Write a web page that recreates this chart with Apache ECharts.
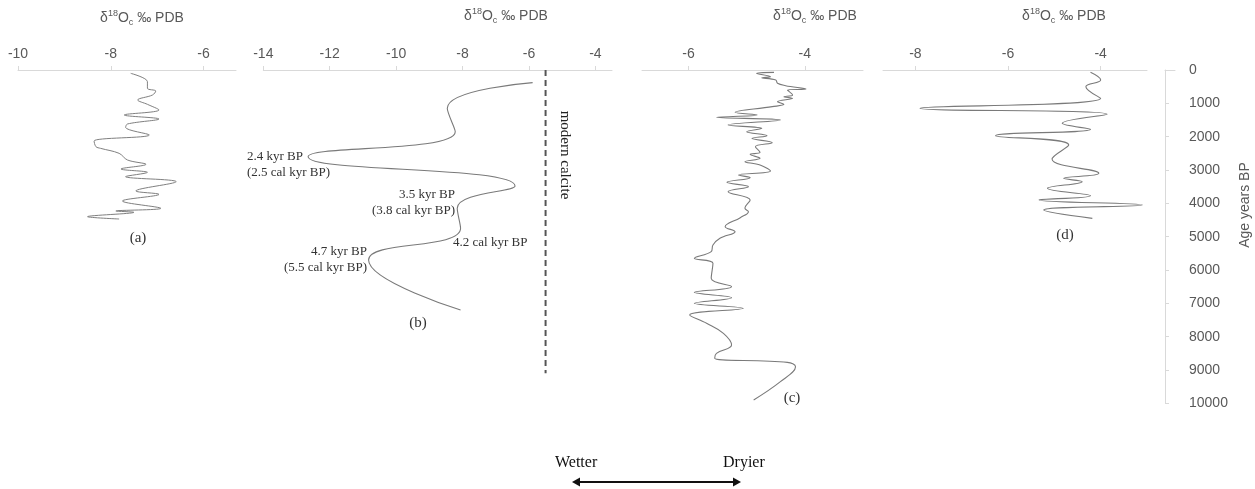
<!DOCTYPE html>
<html><head><meta charset="utf-8">
<script src="https://cdn.jsdelivr.net/npm/echarts@6/dist/echarts.min.js"></script>
<style>html,body{margin:0;padding:0;background:#fff}#c{width:1255px;height:489px}</style>
</head><body><div id="c"></div>
<script>
// ---- data ----
const ageTicks = [0,1000,2000,3000,4000,5000,6000,7000,8000,9000,10000];
const ticksA = [-10,-8,-6];
const ticksB = [-14,-12,-10,-8,-6,-4];
const ticksC = [-6,-4];
const ticksD = [-8,-6,-4];

const ageA = [100,350,550,630,750,900,1030,1200,1350,1470,1620,1720,1950,2130,2300,2350,2500,2700,2830,2970,3070,3200,3350,3630,3730,3930,4150,4230,4270,4400,4470];
const d18OA = [-7.57,-7.21,-7.21,-7.03,-7.10,-7.42,-7.21,-6.96,-7.71,-6.96,-7.64,-7.68,-7.17,-8.36,-8.32,-8.22,-7.82,-7.64,-7.24,-7.78,-7.21,-7.68,-6.59,-7.46,-6.96,-7.75,-6.92,-7.89,-7.50,-8.50,-7.82];

const ageB = [380,1150,1850,2600,3480,4150,4750,5700,7200];
const d18OB = [-5.89,-8.46,-8.22,-12.65,-6.42,-8.16,-8.06,-10.83,-8.06];
const calciteValue = [-5.5,-5.5];
const calciteAge = [0,9100];

const ageC = [70,100,200,230,300,400,470,570,600,750,800,850,950,1030,1100,1270,1350,1420,1500,1650,1750,1850,1970,2050,2180,2300,2470,2530,2650,2750,2850,3030,3150,3230,3370,3500,3650,3900,4150,4250,4430,4700,4850,5050,5250,5450,5650,5800,6250,6500,6670,6830,7000,7150,7350,7600,7900,8250,8500,8650,8770,8900,9350,9900];
const d18OC = [-4.53,-4.83,-4.59,-4.74,-4.50,-4.47,-4.33,-3.98,-4.30,-4.21,-4.36,-4.21,-4.47,-4.36,-4.56,-5.20,-4.82,-5.52,-4.42,-5.32,-4.74,-5.00,-4.65,-4.91,-4.56,-4.85,-4.77,-4.94,-4.77,-5.03,-4.77,-4.59,-5.14,-4.94,-5.34,-4.97,-5.32,-4.94,-5.03,-4.97,-5.11,-5.37,-5.20,-5.46,-5.58,-5.61,-5.90,-5.58,-5.61,-5.26,-5.90,-5.26,-5.90,-5.06,-5.98,-5.69,-5.40,-5.26,-5.52,-5.55,-4.30,-4.16,-4.42,-4.88];

const ageD = [70,300,500,850,1150,1330,1600,1780,1970,2250,2670,3100,3250,3350,3550,3770,3900,4050,4200,4450];
const d18OD = [-4.22,-4.00,-4.32,-4.00,-7.90,-3.86,-4.83,-4.22,-6.27,-4.69,-5.05,-4.04,-4.80,-4.40,-5.15,-4.22,-5.33,-3.10,-5.23,-4.18];

const pairs = (v, a) => v.map((x, i) => [x, a[i]]);

// ---- chart ----
const chart = echarts.init(document.getElementById('c'), null, {renderer: 'canvas'});
const TOP = 70, H = 333.33;
const gray = '#595959', axisGray = '#d9d9d9';
const sans = 'Liberation Sans, Arial, sans-serif';
const serif = 'Liberation Serif, Times New Roman, serif';

function xAx(idx, min, max, ticks) {
  return {
    type: 'value', gridIndex: idx, position: 'top', min: min, max: max,
    axisLine: {show: true, onZero: false, lineStyle: {color: axisGray, width: 1}},
    axisTick: {show: true, inside: false, length: 4, customValues: ticks, lineStyle: {color: axisGray}},
    axisLabel: {show: true, customValues: ticks, color: gray, fontSize: 14, fontFamily: sans, margin: 9},
    splitLine: {show: false}
  };
}
function yAxHidden(idx) {
  return {type: 'value', gridIndex: idx, min: 0, max: 10000, inverse: true, show: false};
}
function lineSeries(idx, data, extra) {
  return Object.assign({
    type: 'line', xAxisIndex: idx, yAxisIndex: idx, data: data, smooth: 0.45,
    symbol: 'none', lineStyle: {color: '#7a7a7a', width: 1.1}, silent: true, animation: false
  }, extra || {});
}

const titleRich = {
  b: {fontSize: 14, fontFamily: sans, fill: gray, lineHeight: 18},
  sup: {fontSize: 9, fontFamily: sans, fill: gray, verticalAlign: 'top', lineHeight: 18, padding: [0,0,6,0]},
  sub: {fontSize: 9, fontFamily: sans, fill: gray, verticalAlign: 'bottom', lineHeight: 18, padding: [6,0,0,0]}
};
const titleText = '{b|δ}{sup|18}{b|O}{sub|c}{b| ‰ PDB}';
function titleG(x, y) {
  return {type: 'text', x: x, y: y, silent: true,
    style: {text: titleText, rich: titleRich, fill: gray, align: 'center', verticalAlign: 'middle'}};
}
function noteG(x, y, txt, align, size) {
  return {type: 'text', x: x, y: y, silent: true,
    style: {text: txt, font: (size || 13) + 'px ' + serif, fill: '#333', align: align, verticalAlign: 'middle', lineHeight: 16}};
}

const option = {
  backgroundColor: '#fff',
  animation: false,
  grid: [
    {left: 18, top: TOP, width: 218, height: H},
    {left: 263.3, top: TOP, width: 348.7, height: H},
    {left: 642, top: TOP, width: 221, height: H},
    {left: 883, top: TOP, width: 264, height: H},
    {left: 1165, top: TOP, width: 10, height: H}
  ],
  xAxis: [
    xAx(0, -10, -5.3, ticksA),
    xAx(1, -14, -3.5, ticksB),
    xAx(2, -6.8, -3.0, ticksC),
    xAx(3, -8.7, -3.0, ticksD),
    {type: 'value', gridIndex: 4, position: 'top', min: 0, max: 1,
      axisLine: {show: true, lineStyle: {color: axisGray}}, axisTick: {show: false}, axisLabel: {show: false}, splitLine: {show: false}}
  ],
  yAxis: [
    yAxHidden(0), yAxHidden(1), yAxHidden(2), yAxHidden(3),
    {type: 'value', gridIndex: 4, position: 'right', min: 0, max: 10000, interval: 1000, inverse: true,
      axisLine: {show: true, lineStyle: {color: axisGray}},
      axisTick: {show: true, length: 4, lineStyle: {color: axisGray}},
      axisLabel: {color: gray, fontSize: 14, fontFamily: sans, margin: 14,
        customValues: ageTicks, formatter: v => String(v)},
      splitLine: {show: false}}
  ],
  series: [
    lineSeries(0, pairs(d18OA, ageA), {smooth: 0.35, lineStyle: {color: '#808080', width: 1}}),
    lineSeries(1, pairs(d18OB, ageB), {smooth: 0.5}),
    lineSeries(1, pairs(calciteValue, calciteAge), {smooth: false, lineStyle: {color: '#555', width: 2, type: [6, 4]}}),
    lineSeries(2, pairs(d18OC, ageC), {smooth: 0.4}),
    lineSeries(3, pairs(d18OD, ageD), {smooth: 0.45})
  ],
  graphic: [
    titleG(142, 18), titleG(506, 16), titleG(815, 16), titleG(1064, 16),
    noteG(138, 238, '(a)', 'center', 15),
    noteG(418, 323, '(b)', 'center', 15),
    noteG(792, 398, '(c)', 'center', 15),
    noteG(1065, 235, '(d)', 'center', 15),
    noteG(247, 165, '2.4 kyr BP\n(2.5 cal kyr BP)', 'left'),
    noteG(455, 203, '3.5 kyr BP\n(3.8 cal kyr BP)', 'right'),
    noteG(453, 243, '4.2 cal kyr BP', 'left'),
    noteG(367, 260, '4.7 kyr BP\n(5.5 cal kyr BP)', 'right'),
    {type: 'text', x: 565, y: 155, rotation: -Math.PI / 2, silent: true,
      style: {text: 'modern calcite', font: '15px ' + serif, fill: '#222', align: 'center', verticalAlign: 'middle'}},
    {type: 'text', x: 1245, y: 205, rotation: Math.PI / 2, silent: true,
      style: {text: 'Age years BP', font: '14px ' + sans, fill: gray, align: 'center', verticalAlign: 'middle'}},
    {type: 'text', x: 555, y: 463, silent: true,
      style: {text: 'Wetter', font: '16px ' + serif, fill: '#111', align: 'left', verticalAlign: 'middle'}},
    {type: 'text', x: 723, y: 463, silent: true,
      style: {text: 'Dryier', font: '16px ' + serif, fill: '#111', align: 'left', verticalAlign: 'middle'}},
    {type: 'line', silent: true, shape: {x1: 577, y1: 482, x2: 736, y2: 482}, style: {stroke: '#111', lineWidth: 2}},
    {type: 'polygon', silent: true, shape: {points: [[572, 482], [580, 477.5], [580, 486.5]]}, style: {fill: '#111'}},
    {type: 'polygon', silent: true, shape: {points: [[741, 482], [733, 477.5], [733, 486.5]]}, style: {fill: '#111'}}
  ]
};
chart.setOption(option);
</script>
</body></html>
